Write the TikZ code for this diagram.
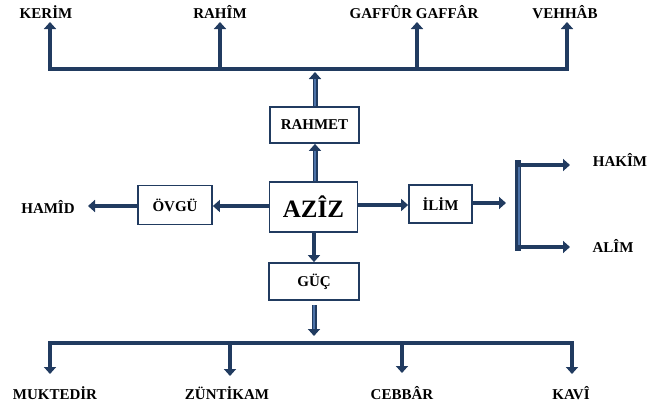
\documentclass[tikz,border=0pt]{standalone}
\usepackage{fontspec}
\setmainfont{Liberation Serif}
\usetikzlibrary{arrows.meta}
\definecolor{navy}{HTML}{213B60}
\definecolor{innerblue}{HTML}{4C72A8}
\begin{document}
\begin{tikzpicture}[x=1pt,y=-1pt,
  box/.style={draw=navy,line width=1.8pt,fill=white,font=\fontsize{15}{18}\selectfont\bfseries,inner sep=0pt},
  lbl/.style={font=\fontsize{15}{18}\selectfont\bfseries,inner sep=0pt},
  arr/.style={draw=navy,line width=4.6pt,-{Triangle[width=12pt,length=7pt]}},
  dbl/.style={arr,line width=5pt,postaction={draw=innerblue,line width=1.5pt,-,shorten >=7pt}},
  barline/.style={draw=navy,line width=4.6pt,line cap=rect}]
\useasboundingbox (0,0) rectangle (649,407);

% boxes
\node[box,minimum width=89pt,minimum height=36pt] (rahmet) at (314.5,125) {RAHMET};
\node[box,minimum width=88pt,minimum height=50pt,font=\fontsize{25}{30}\selectfont\bfseries] (aziz) at (313.5,207) {AZÎZ};
\node[box,minimum width=90pt,minimum height=37pt] (guc) at (314,281.5) {GÜÇ};
\node[box,minimum width=74pt,minimum height=39pt] (ovgu) at (175,205) {ÖVGÜ};
\node[box,minimum width=63pt,minimum height=38pt] (ilim) at (440.5,204) {İLİM};

% labels
\node[lbl] (kerim) at (46,12) {KERİM};
\node[lbl] (rahim) at (220,12) {RAHÎM};
\node[lbl] (gaffur) at (414,12) {GAFFÛR GAFFÂR};
\node[lbl] (vehhab) at (565,12) {VEHHÂB};
\node[lbl] (hamid) at (48,207) {HAMÎD};
\node[lbl] (hakim) at (620,160) {HAKÎM};
\node[lbl] (alim) at (613,246) {ALÎM};
\node[lbl] (muktedir) at (55,393) {MUKTEDİR};
\node[lbl] (zuntikam) at (227,393) {ZÜNTİKAM};
\node[lbl] (cebbar) at (402,393) {CEBBÂR};
\node[lbl] (kavi) at (571,393) {KAVÎ};

% top bar
\coordinate (t1) at (50,69);
\coordinate (t2) at (220,69);
\coordinate (t3) at (417,69);
\coordinate (t4) at (567,69);
\coordinate (tm) at (315,72);
\draw[barline] (t1) -- (t4);
\draw[arr] (t1) -- (t1 |- 0,22);
\draw[arr] (t2) -- (t2 |- 0,22);
\draw[arr] (t3) -- (t3 |- 0,22);
\draw[arr] (t4) -- (t4 |- 0,22);

% center vertical
\draw[dbl] (rahmet.north -| tm) -- (tm);
\draw[dbl] (aziz.north -| tm) -- (rahmet.south -| tm);
\draw[arr] (aziz.south -| guc.north) -- (guc.north);

% bottom bar
\coordinate (gs) at (314,305);
\coordinate (gt) at (314,336);
\coordinate (b1) at (50,343);
\coordinate (b2) at (230,343);
\coordinate (b3) at (402,343);
\coordinate (b4) at (572,343);
\draw[dbl] (gs) -- (gt);
\draw[barline] (b1) -- (b4);
\draw[arr] (b1) -- (b1 |- 0,374);
\draw[arr] (b2) -- (b2 |- 0,376);
\draw[arr] (b3) -- (b3 |- 0,373);
\draw[arr] (b4) -- (b4 |- 0,374);

% left
\draw[arr] (aziz.west |- 0,206) -- (ovgu.east |- 0,206);
\draw[arr] (ovgu.west |- 0,206) -- (88,206);

% right
\coordinate (br1) at (518,163);
\coordinate (br2) at (518,248);
\draw[arr] (aziz.east |- 0,205) -- (ilim.west |- 0,205);
\draw[arr] (ilim.east |- 0,203) -- (506,203);
\draw[draw=navy,line width=5.5pt,line cap=rect] (br1) -- (br2);
\draw[draw=innerblue,line width=1.8pt] (519,165) -- (519,246);
\draw[arr] (516,165) -- (570,165);
\draw[arr] (516,247) -- (570,247);
\end{tikzpicture}
\end{document}
